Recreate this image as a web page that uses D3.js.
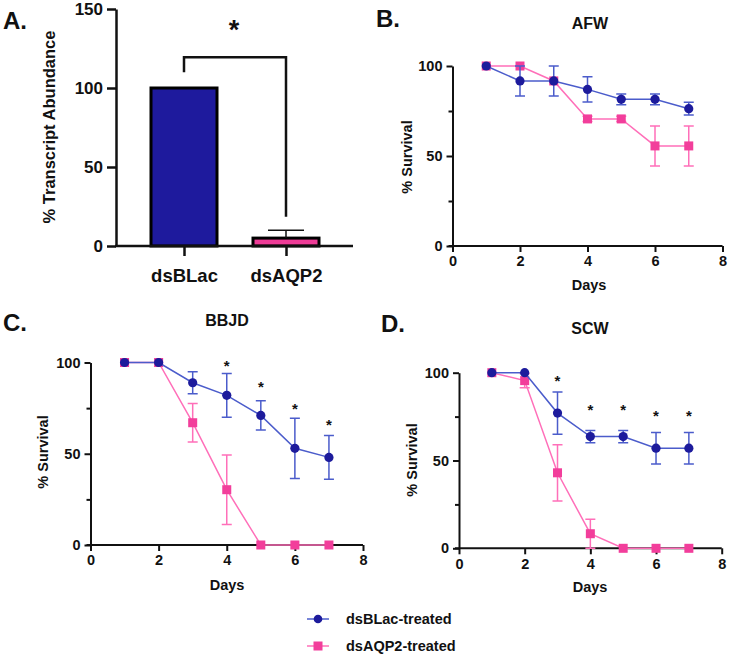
<!DOCTYPE html>
<html>
<head>
<meta charset="utf-8">
<script src="https://cdn.jsdelivr.net/npm/d3@7"></script>
<style>
  body { margin: 0; background: #fff; }
  svg { display: block; font-family: "Liberation Sans", Arial, sans-serif; font-weight: bold; }
  .axis path, .axis line { stroke: #111; }
  .axis text { fill: #111; font-family: "Liberation Sans", Arial, sans-serif; font-weight: bold; }
</style>
</head>
<body>
<div id="chart"></div>
<script>
// Données
const categoriesA = ["dsBLac", "dsAQP2"];
const abundance = [100, 5];
const abundanceErr = [0, 5];
const bracketA = { left: 110, top: 119.5, right: 18.5 };

const days = [1, 2, 3, 4, 5, 6, 7];

const afwBLac = [100, 91.7, 91.7, 87, 81.5, 81.5, 76.3];
const afwBLacErr = [0, 8.3, 8.3, 7, 3, 3, 3.5];
const afwAQP2 = [100, 100, 91.7, 70.6, 70.6, 55.6, 55.6];
const afwAQP2Err = [0, 0, 0, 1.5, 1.5, 11.1, 11.1];

const bbjdBLac = [100, 100, 88.9, 82, 71, 53, 48];
const bbjdBLacErr = [0, 0, 6, 12, 8, 16.5, 12];
const bbjdAQP2 = [100, 100, 67, 30.3, 0, 0, 0];
const bbjdAQP2Err = [0, 0, 10.5, 19, 0, 0, 0];
const starsC = [{ day: 4, at: 100 }, { day: 5, at: 88 }, { day: 6, at: 76 }, { day: 7, at: 67.5 }];

const scwBLac = [100, 100, 77, 63.6, 63.6, 57, 57];
const scwBLacErr = [0, 0, 12, 3.5, 3.5, 9, 9];
const scwAQP2 = [100, 95.5, 43, 8.3, 0, 0, 0];
const scwAQP2Err = [0, 4, 16, 8.3, 0, 0, 0];
const starsD = [{ day: 3, at: 97 }, { day: 4, at: 80.5 }, { day: 5, at: 80.5 }, { day: 6, at: 77 }, { day: 7, at: 77 }];

const seriesNames = ["dsBLac-treated", "dsAQP2-treated"];
const xTicks = [0, 2, 4, 6, 8];

// Couleurs
const blueDot = "#1d1b9c", blueLine = "#4b5ccb";
const pinkDot = "#f23e9b", pinkLine = "#ff6fb9";

const svg = d3.select("#chart").append("svg")
    .attr("width", 729)
    .attr("height", 655);

function label(x, y, txt, size, opts = {}) {
    const t = svg.append("text")
        .attr("x", x).attr("y", y)
        .attr("font-size", size)
        .attr("fill", "#111")
        .attr("text-anchor", opts.anchor || "middle")
        .text(txt);
    if (opts.rotate) t.attr("transform", `rotate(-90,${x},${y})`);
    if (opts.weight) t.attr("font-weight", opts.weight);
    return t;
}

// ---------- A. barres ----------
(function() {
    const x = d3.scalePoint().domain(categoriesA).range([184, 286]);
    const y = d3.scaleLinear().domain([0, 150]).range([246, 9]);
    const barW = 66;

    const g = svg.append("g");

    g.selectAll(".bar")
        .data(categoriesA)
        .enter().append("rect")
        .attr("x", d => x(d) - barW / 2)
        .attr("y", (d, i) => y(abundance[i]))
        .attr("width", barW)
        .attr("height", (d, i) => y(0) - y(abundance[i]))
        .attr("fill", (d, i) => i === 0 ? "#1e1a9d" : "#ee3c97")
        .attr("stroke", "#000")
        .attr("stroke-width", 3);

    // barre d'erreur
    categoriesA.forEach((d, i) => {
        if (!abundanceErr[i]) return;
        const top = y(abundance[i] + abundanceErr[i]);
        g.append("line").attr("x1", x(d)).attr("x2", x(d))
            .attr("y1", y(abundance[i])).attr("y2", top)
            .attr("stroke", "#111").attr("stroke-width", 1.5);
        g.append("line").attr("x1", x(d) - 18).attr("x2", x(d) + 18)
            .attr("y1", top).attr("y2", top)
            .attr("stroke", "#111").attr("stroke-width", 1.5);
    });

    // axes
    const yAxis = g.append("g").attr("class", "axis")
        .attr("transform", "translate(116,0)")
        .call(d3.axisLeft(y).tickValues([0, 50, 100, 150]).tickSize(9).tickPadding(4).tickSizeOuter(0));
    yAxis.selectAll("path, line").attr("stroke-width", 2.5);
    yAxis.selectAll("text").attr("font-size", 17);

    const xAxis = g.append("g").attr("class", "axis")
        .attr("transform", `translate(0,${y(0)})`)
        .call(d3.axisBottom(x).tickSize(10).tickPadding(13).tickSizeOuter(0));
    xAxis.select(".domain").attr("d", `M115,0H353`);
    xAxis.selectAll("path, line").attr("stroke-width", 2.5);
    xAxis.selectAll("text").attr("font-size", 18.5);

    // crochet de significativité
    const xl = x(categoriesA[0]), xr = x(categoriesA[1]);
    g.append("path")
        .attr("d", `M${xl},${y(bracketA.left)}V${y(bracketA.top)}H${xr}V${y(bracketA.right)}`)
        .attr("fill", "none").attr("stroke", "#111").attr("stroke-width", 2.5);
    label((xl + xr) / 2 - 1, 39, "*", 27);

    label(55, 127, "% Transcript Abundance", 16.5, { rotate: true });
    label(3, 29, "A.", 24, { anchor: "start" });
})();

// ---------- B, C, D. survie ----------
function drawSurvival(cfg) {
    const x = d3.scaleLinear().domain([0, 8]).range(cfg.xr);
    const y = d3.scaleLinear().domain([0, 100]).range(cfg.yr);
    const g = svg.append("g");

    const yAxis = g.append("g").attr("class", "axis")
        .attr("transform", `translate(${x(0)},0)`)
        .call(d3.axisLeft(y).tickValues([0, 50, 100]).tickSize(6).tickPadding(4).tickSizeOuter(0));
    g.append("g").attr("class", "axis")
        .attr("transform", `translate(${x(0)},0)`)
        .call(d3.axisLeft(y).tickValues([25, 75]).tickSize(4).tickFormat(""))
        .select(".domain").remove();
    yAxis.selectAll("path, line").attr("stroke-width", 2);
    yAxis.selectAll("text").attr("font-size", 14.5);

    const xAxis = g.append("g").attr("class", "axis")
        .attr("transform", `translate(0,${y(0)})`)
        .call(d3.axisBottom(x).tickValues(xTicks).tickSize(6).tickPadding(4).tickSizeOuter(0));
    xAxis.select(".domain").attr("d", `M${x(0) - 4},0H${x(8)}`);
    g.selectAll(".axis path, .axis line").attr("stroke-width", 2);
    xAxis.selectAll("text").attr("font-size", 14.5);

    const line = d3.line().x(d => x(d.day)).y(d => y(d.v));

    function series(vals, errs, lineCol, dotCol, shape) {
        const data = days.map((d, i) => ({ day: d, v: vals[i], e: errs[i] }));
        g.append("path").datum(data)
            .attr("d", line)
            .attr("fill", "none").attr("stroke", lineCol).attr("stroke-width", 1.5);
        data.filter(d => d.e > 0).forEach(d => {
            const y1 = y(Math.min(100, d.v + d.e)), y2 = y(Math.max(0, d.v - d.e));
            g.append("path")
                .attr("d", `M${x(d.day)},${y1}V${y2}M${x(d.day) - 5},${y1}h10M${x(d.day) - 5},${y2}h10`)
                .attr("fill", "none").attr("stroke", lineCol).attr("stroke-width", 1.5);
        });
        if (shape === "circle") {
            g.selectAll(null).data(data).enter().append("circle")
                .attr("cx", d => x(d.day)).attr("cy", d => y(d.v)).attr("r", 4.6)
                .attr("fill", dotCol);
        } else {
            g.selectAll(null).data(data).enter().append("rect")
                .attr("x", d => x(d.day) - 4.5).attr("y", d => y(d.v) - 4.5)
                .attr("width", 9).attr("height", 9)
                .attr("fill", dotCol);
        }
    }

    series(cfg.aqp2, cfg.aqp2Err, pinkLine, pinkDot, "square");
    series(cfg.blac, cfg.blacErr, blueLine, blueDot, "circle");

    (cfg.stars || []).forEach(s => {
        label(x(s.day), y(s.at) + 8, "*", 15);
    });

    label(cfg.title[0], cfg.title[1], cfg.title[2], 16);
    label(cfg.letter[0], cfg.letter[1], cfg.letter[2], 24, { anchor: "start" });
    label(cfg.ylab[0], cfg.ylab[1], "% Survival", 14.5, { rotate: true });
    label(cfg.xlab[0], cfg.xlab[1], "Days", 14.5);
}

drawSurvival({
    xr: [452.5, 722.5], yr: [246, 66],
    blac: afwBLac, blacErr: afwBLacErr, aqp2: afwAQP2, aqp2Err: afwAQP2Err,
    title: [590, 29, "AFW"], letter: [376, 27, "B."],
    ylab: [412, 157], xlab: [589, 290]
});

drawSurvival({
    xr: [90.5, 363], yr: [545, 362.5],
    blac: bbjdBLac, blacErr: bbjdBLacErr, aqp2: bbjdAQP2, aqp2Err: bbjdAQP2Err,
    stars: starsC,
    title: [227, 326, "BBJD"], letter: [3, 331, "C."],
    ylab: [48, 452], xlab: [227, 590]
});

drawSurvival({
    xr: [459, 721.7], yr: [548.3, 372.7],
    blac: scwBLac, blacErr: scwBLacErr, aqp2: scwAQP2, aqp2Err: scwAQP2Err,
    stars: starsD,
    title: [590, 334, "SCW"], letter: [381, 332, "D."],
    ylab: [417, 460], xlab: [590, 592]
});

// ---------- légende ----------
const legend = svg.selectAll(".legend")
    .data(seriesNames)
    .enter().append("g")
    .attr("class", "legend")
    .attr("transform", (d, i) => `translate(307,${619 + i * 27})`);

legend.append("line")
    .attr("x1", 0).attr("x2", 22)
    .attr("stroke", (d, i) => i === 0 ? blueLine : pinkLine)
    .attr("stroke-width", 1.5);
legend.filter((d, i) => i === 0).append("circle")
    .attr("cx", 11).attr("r", 4.3).attr("fill", blueDot);
legend.filter((d, i) => i === 1).append("rect")
    .attr("x", 6.5).attr("y", -4.5).attr("width", 9).attr("height", 9).attr("fill", pinkDot);
legend.append("text")
    .attr("x", 39).attr("y", 5)
    .attr("font-size", 14.5)
    .attr("fill", "#111")
    .text(d => d);
</script>
</body>
</html>
